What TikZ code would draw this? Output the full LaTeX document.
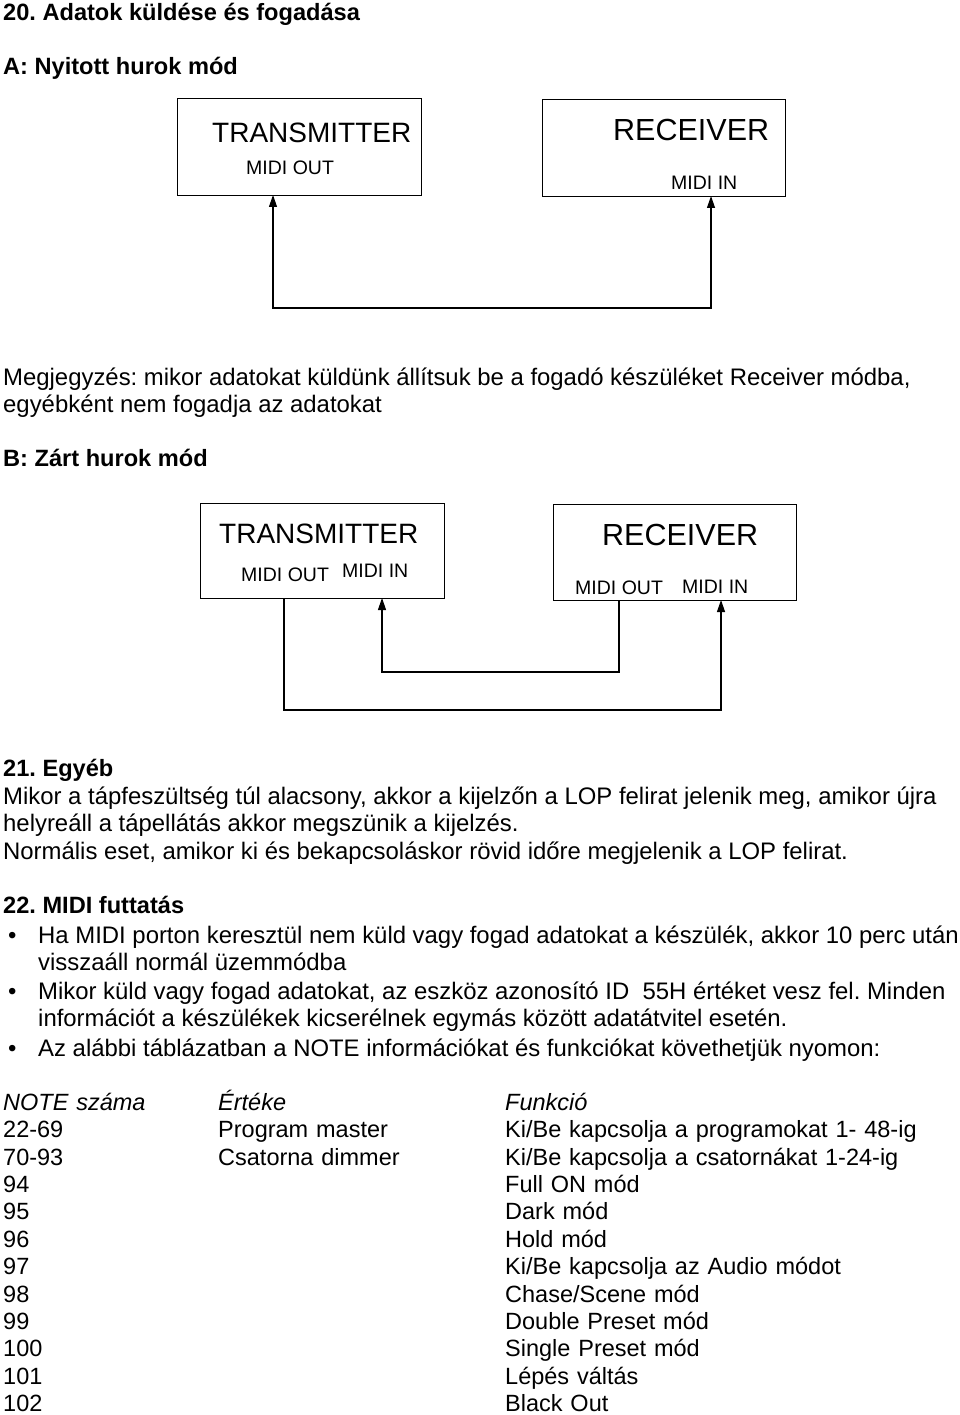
\documentclass[tikz,border=0pt]{standalone}
\usepackage{fontspec}
\setmainfont{Liberation Sans}
\usetikzlibrary{arrows.meta,positioning,matrix}
\frenchspacing

\begin{document}
\begin{tikzpicture}[x=1pt,y=-1pt,
		>={Triangle[length=12pt,width=8pt]},
		txt/.style={anchor=base west,inner sep=0pt,font=\fontsize{23.9}{28}\selectfont},
		hd/.style={txt,font=\bfseries\fontsize{23.6}{28}\selectfont},
		unit/.style={draw,line width=1.4pt,anchor=north west,inner sep=0pt},
		devname/.style={txt,font=\fontsize{28}{32}\selectfont},
		port/.style={txt,font=\fontsize{19.5}{23}\selectfont},
		link/.style={line width=1.2pt}]
	\useasboundingbox (0,0) rectangle (960,1415);

	\node[hd] (title) at (3,21) {20. Adatok küldése és fogadása};
	\node[hd] (secA) at (3,75) {A: Nyitott hurok mód};

	\node[unit,minimum width=244pt,minimum height=97pt] (txa) at (177,98) {};
	\node[devname] (txaname) at (212,143) {TRANSMITTER};
	\node[port] (txaport) at (246,175) {MIDI OUT};
	\node[unit,minimum width=243pt,minimum height=97pt] (rxa) at (542,99) {};
	\node[devname,font=\fontsize{30.5}{34}\selectfont] (rxaname) at (613,141) {RECEIVER};
	\node[port] (rxaport) at (671,190) {MIDI IN};
	\coordinate (txaout) at (273,195);
	\coordinate (rxain) at (711,196);
	\draw[link,<->] (txaout) -- ++(0,113) -| (rxain);

	\node[txt] (note1) at (3,385) {Megjegyzés: mikor adatokat küldünk állítsuk be a fogadó készüléket Receiver módba,};
	\node[txt] (note2) at (3,412) {egyébként nem fogadja az adatokat};
	\node[hd] (secB) at (3,466) {B: Zárt hurok mód};

	\node[unit,minimum width=244pt,minimum height=95pt] (txb) at (200,503) {};
	\node[devname] (txbname) at (219,543) {TRANSMITTER};
	\node[port] (txbportout) at (241,581) {MIDI OUT};
	\node[port] (txbportin) at (342,577) {MIDI IN};
	\node[unit,minimum width=243pt,minimum height=96pt] (rxb) at (553,504) {};
	\node[devname,font=\fontsize{30.5}{34}\selectfont] (rxbname) at (602,545) {RECEIVER};
	\node[port] (rxbportout) at (575,594) {MIDI OUT};
	\node[port] (rxbportin) at (682,593) {MIDI IN};
	\coordinate (txbout) at (284,598);
	\coordinate (txbin) at (382,598);
	\coordinate (rxbout) at (619,600);
	\coordinate (rxbin) at (721,600);
	\draw[link,->] (txbout) -- ++(0,112) -| (rxbin);
	\draw[link,->] (rxbout) -- ++(0,72) -| (txbin);

	\node[hd] (sec21) at (3,776) {21. Egyéb};
	\node[txt] (par1) at (3,804) {Mikor a tápfeszültség túl alacsony, akkor a kijelzőn a LOP felirat jelenik meg, amikor újra};
	\node[txt] (par2) at (3,831) {helyreáll a tápellátás akkor megszünik a kijelzés.};
	\node[txt] (par3) at (3,859) {Normális eset, amikor ki és bekapcsoláskor rövid időre megjelenik a LOP felirat.};

	\node[hd] (sec22) at (3,913) {22. MIDI futtatás};
	\node[txt] (dot1) at (8,943) {\textbullet};
	\node[txt] (item1a) at (38,943) {Ha MIDI porton keresztül nem küld vagy fogad adatokat a készülék, akkor 10 perc után};
	\node[txt] (item1b) at (38,970) {visszaáll normál üzemmódba};
	\node[txt] (dot2) at (8,999) {\textbullet};
	\node[txt] (item2a) at (38,999) {Mikor küld vagy fogad adatokat, az eszköz azonosító ID\ \ 55H értéket vesz fel. Minden};
	\node[txt] (item2b) at (38,1026) {információt a készülékek kicserélnek egymás között adatátvitel esetén.};
	\node[txt] (dot3) at (8,1056) {\textbullet};
	\node[txt] (item3) at (38,1056) {Az alábbi táblázatban a NOTE információkat és funkciókat követhetjük nyomon:};

	\matrix (notes) [matrix of nodes, anchor=north west, inner sep=0pt,
		row sep={27.4pt,between origins}, column sep=0pt,
		nodes={inner sep=0pt, align=left, text height=17pt, text depth=5pt, font=\fontsize{23.5}{28}\selectfont},
		column 1/.style={nodes={text width=215pt}},
		column 2/.style={nodes={text width=287pt}},
		column 3/.style={nodes={text width=450pt}}]
		at (3,1093)
	{
		\itshape NOTE száma & \itshape Értéke         & \itshape Funkció                            \\
		22-69               & Program master          & Ki/Be kapcsolja a programokat 1- 48-ig      \\
		70-93               & Csatorna dimmer         & Ki/Be kapcsolja a csatornákat 1-24-ig       \\
		94                  &                         & Full ON mód                                 \\
		95                  &                         & Dark mód                                    \\
		96                  &                         & Hold mód                                    \\
		97                  &                         & Ki/Be kapcsolja az Audio módot              \\
		98                  &                         & Chase/Scene mód                             \\
		99                  &                         & Double Preset mód                           \\
		100                 &                         & Single Preset mód                           \\
		101                 &                         & Lépés váltás                                \\
		102                 &                         & Black Out                                   \\
	};
\end{tikzpicture}
\end{document}
